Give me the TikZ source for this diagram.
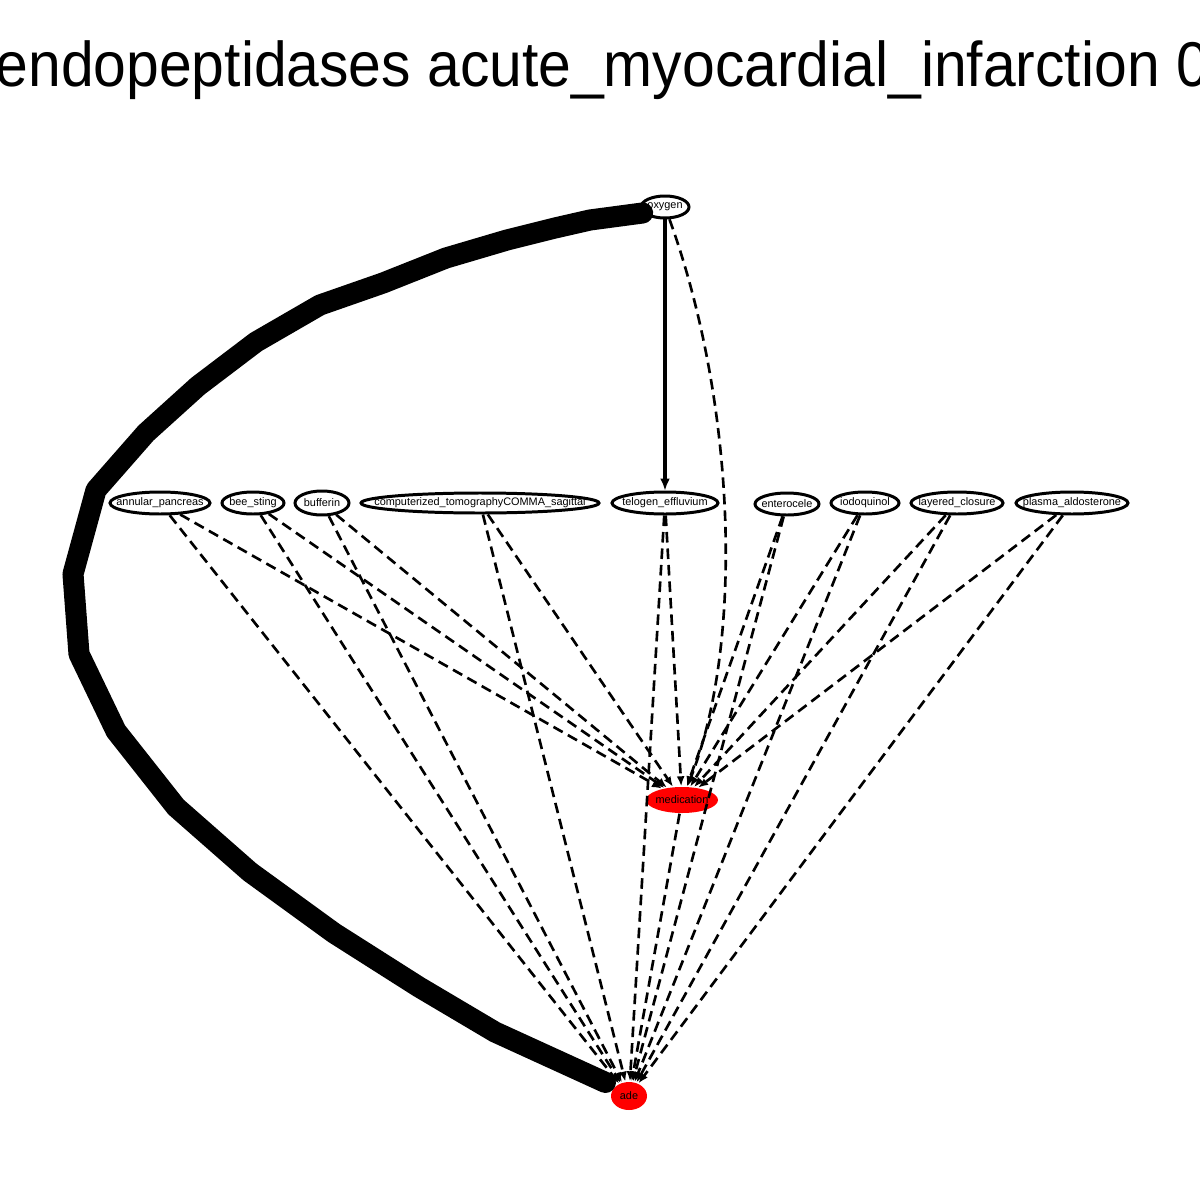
\documentclass[tikz,border=0pt]{standalone}
\usepackage{fontspec}
\setmainfont{Liberation Sans}
\usetikzlibrary{shapes.geometric, arrows.meta}
\tikzstyle{vtx}=[ellipse, draw, line width=0.85pt, fill=white, inner sep=0pt, minimum height=2.2mm, font=\fontsize{3.1}{3.5}\selectfont]
\tikzstyle{hit}=[ellipse, fill=red, inner sep=0pt, font=\fontsize{3.1}{3.5}\selectfont]
\tikzstyle{dep}=[line width=0.75pt, dash pattern=on 3pt off 1.7pt, -{Latex[length=1mm, width=0.8mm]}]
\tikzstyle{cause}=[line width=1.3pt, -{Latex[length=1.2mm, width=1mm]}]
\tikzstyle{heavy}=[line width=6pt, line cap=round, line join=round]
\newcommand{\nm}[1]{\makebox[0pt]{#1}}

\begin{document}
\begin{tikzpicture}[x=0.1mm, y=-0.1mm]
    \useasboundingbox (0,0) rectangle (1200,1200);
    \clip (0,0) rectangle (1200,1200);
    \node[anchor=base west, font=\fontsize{18}{21}\selectfont, inner sep=0pt] (title) at (-5,87)
        {\scalebox{0.93}[1]{endopeptidases acute\_myocardial\_infarction 0}};
    \node[vtx, minimum width=4.8mm] (oxygen) at (665,207) {\nm{oxygen}};
    \node[vtx, minimum width=10mm] (annular) at (160,503) {\nm{annular\_pancreas}};
    \node[vtx, minimum width=6.2mm] (bee) at (253,503) {\nm{bee\_sting}};
    \node[vtx, minimum width=5.4mm, minimum height=2.4mm] (bufferin) at (322,503) {\nm{bufferin}};
    \node[vtx, minimum width=23.8mm, minimum height=2mm] (ct) at (480,503) {\nm{computerized\_tomographyCOMMA\_sagittal}};
    \node[vtx, minimum width=10.6mm] (telogen) at (665,503) {\nm{telogen\_effluvium}};
    \node[vtx, minimum width=6.4mm] (enterocele) at (787,504) {\nm{enterocele}};
    \node[vtx, minimum width=6.8mm] (iodoquinol) at (865,503) {\nm{iodoquinol}};
    \node[vtx, minimum width=9.2mm] (layered) at (957,503) {\nm{layered\_closure}};
    \node[vtx, minimum width=11.2mm] (plasma) at (1072,503) {\nm{plasma\_aldosterone}};
    \node[hit, minimum width=7.2mm, minimum height=2.6mm] (medication) at (682,800) {\nm{medication}};
    \node[hit, minimum width=3.6mm, minimum height=2.8mm] (ade) at (629,1096) {\nm{ade}};
    % edges into medication and ade
    \draw[dep] (annular) -- (medication);
    \draw[dep] (annular) -- (ade);
    \draw[dep] (bee) -- (medication);
    \draw[dep] (bee) -- (ade);
    \draw[dep] (bufferin) -- (medication);
    \draw[dep] (bufferin) -- (ade);
    \draw[dep] (ct) -- (medication);
    \draw[dep] (ct) -- (ade);
    \draw[dep] (telogen) -- (medication);
    \draw[dep] (telogen) -- (ade);
    \draw[dep] (enterocele) -- (medication);
    \draw[dep] (enterocele) -- (ade);
    \draw[dep] (iodoquinol) -- (medication);
    \draw[dep] (iodoquinol) -- (ade);
    \draw[dep] (layered) -- (medication);
    \draw[dep] (layered) -- (ade);
    \draw[dep] (plasma) -- (medication);
    \draw[dep] (plasma) -- (ade);
    \draw[dep] (medication) -- (ade);
    \draw[dep] (oxygen) .. controls (735,400) and (745,640) .. (medication);
    \draw[cause] (oxygen) -- (telogen);
    \draw[heavy] (oxygen.195) -- (590,220) -- (555,228) -- (507,240) -- (446,258) -- (383,283)
        -- (320,305) -- (256,342) -- (198,386) -- (146,433) -- (96,490) -- (73,574) -- (79,654)
        -- (116,731) -- (176,807) -- (250,872) -- (334,933) -- (419,987) -- (495,1032)
        -- ([xshift=-1.2mm, yshift=0.2mm]ade.135);
\end{tikzpicture}
\end{document}
